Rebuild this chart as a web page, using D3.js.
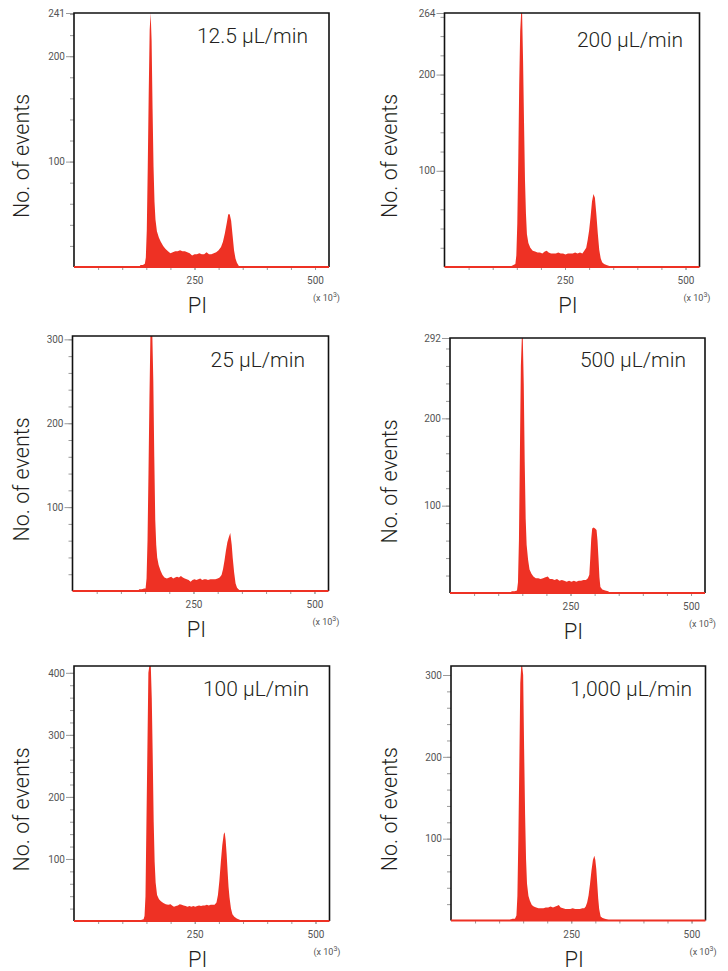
<!DOCTYPE html>
<html>
<head>
<meta charset="utf-8">
<script src="https://cdn.jsdelivr.net/npm/d3@7"></script>
<style>
  body { margin: 0; background: #fff; }
  svg { display: block; font-family: Roboto, "Liberation Sans", Arial, sans-serif; }
</style>
</head>
<body>
<script>
// Panel titles (sample flow rate)
const flowRates = ["12.5 µL/min", "200 µL/min", "25 µL/min", "500 µL/min", "100 µL/min", "1,000 µL/min"];

// Top of each y axis and the labelled y ticks
const yMaxValues = [241, 264, 304, 292, 411, 311];
const yLabelTicks = [
  [100, 200, 241],
  [100, 200, 264],
  [100, 200, 300],
  [100, 200, 292],
  [100, 200, 300, 400],
  [100, 200, 300]
];

// PI axis (x 10^3)
const xMax = 529;
const xMinorTicks = [50, 100, 150, 200, 250, 300, 350, 400, 450, 500];
const xLabelTicks = [250, 500];

// Histograms: [PI (x 10^3), no. of events]
const hist12_5 = [[0,0],[135,0],[138,2],[143,2],[147,3],[149,9],[151,35],[153,95],[155,165],[157,225],[159,241],[161,215],[163,150],[165,95],[167,62],[169,45],[172,34],[176,28],[180,24],[185,20],[190,17],[195,15],[200,13],[205,14],[210,15],[215,15],[220,16],[225,15],[230,15],[235,14],[240,13],[245,11],[250,12],[255,12],[260,13],[265,12],[270,12],[275,14],[280,12],[285,12],[290,13],[295,14],[300,16],[305,19],[309,24],[313,32],[317,42],[320,50],[323,50],[326,44],[329,30],[332,16],[335,8],[338,4],[342,1],[346,0],[529,0]];

const hist200 = [[0,0],[136,0],[139,1],[143,2],[147,3],[149,12],[151,45],[153,110],[155,190],[157,245],[159,264],[161,264],[163,215],[165,150],[167,90],[169,55],[171,34],[174,25],[178,20],[183,17],[188,16],[193,15],[198,15],[203,14],[208,16],[212,17],[216,15],[221,14],[226,14],[231,14],[236,15],[241,14],[246,14],[251,13],[256,14],[261,14],[266,14],[271,15],[276,14],[281,15],[286,14],[290,17],[294,20],[297,28],[300,38],[303,52],[306,68],[309,76],[312,72],[315,55],[318,35],[321,18],[324,9],[327,5],[331,3],[336,2],[342,1],[348,0],[529,0]];

const hist25 = [[0,0],[135,0],[138,2],[143,2],[148,3],[151,3],[153,15],[155,60],[157,140],[159,230],[161,304],[163,304],[165,304],[167,250],[169,160],[171,85],[173,55],[175,40],[178,31],[182,24],[186,19],[190,16],[195,15],[200,16],[204,17],[208,15],[212,16],[216,17],[220,16],[224,18],[228,16],[232,15],[236,14],[240,13],[244,11],[248,13],[252,14],[256,13],[260,14],[264,15],[268,13],[272,14],[276,14],[280,13],[285,14],[290,14],[295,14],[300,15],[304,16],[308,19],[311,26],[314,36],[317,48],[320,58],[323,64],[326,69],[329,55],[331,40],[334,22],[337,9],[340,4],[343,2],[347,0],[529,0]];

const hist500 = [[0,0],[125,0],[128,2],[134,2],[139,3],[141,12],[143,60],[145,160],[147,260],[149,292],[151,292],[153,240],[155,150],[157,85],[159,55],[162,38],[165,27],[169,22],[173,19],[178,17],[183,17],[188,16],[193,17],[198,18],[203,19],[207,16],[212,16],[217,15],[222,16],[227,14],[232,15],[237,14],[242,13],[247,14],[252,13],[257,14],[262,13],[267,14],[272,14],[277,15],[282,15],[286,17],[289,21],[291,40],[293,62],[295,74],[298,75],[301,74],[304,72],[306,60],[308,40],[310,18],[312,7],[316,4],[322,3],[328,2],[333,0],[529,0]];

const hist100 = [[0,0],[137,0],[140,2],[144,3],[146,8],[148,40],[150,160],[152,280],[154,400],[156,411],[159,411],[161,360],[163,265],[165,160],[167,95],[169,62],[172,42],[176,35],[180,32],[185,29],[190,27],[195,26],[200,27],[203,25],[207,23],[211,24],[215,25],[219,27],[223,26],[227,25],[231,24],[235,23],[239,24],[243,23],[247,24],[251,23],[255,24],[259,25],[263,24],[267,25],[271,25],[275,26],[279,25],[283,26],[287,26],[291,26],[295,30],[298,42],[301,65],[304,95],[307,122],[310,140],[312,143],[314,130],[316,108],[318,80],[320,55],[322,38],[325,20],[328,11],[332,7],[337,4],[343,2],[349,0],[529,0]];

const hist1000 = [[0,0],[120,0],[123,1],[128,2],[133,2],[136,6],[138,30],[140,100],[142,190],[144,290],[146,311],[148,311],[150,300],[152,210],[154,130],[156,75],[158,45],[161,30],[164,24],[168,19],[172,17],[177,16],[182,15],[187,15],[192,15],[197,16],[202,16],[207,17],[212,16],[217,17],[221,18],[224,19],[228,16],[233,15],[238,14],[243,14],[248,14],[253,15],[258,14],[263,14],[268,14],[273,15],[277,15],[280,17],[283,22],[286,31],[289,45],[292,61],[295,74],[298,79],[300,74],[302,63],[304,45],[306,27],[308,14],[311,5],[315,3],[320,2],[326,1],[330,0],[529,0]];

const histograms = [hist12_5, hist200, hist25, hist500, hist100, hist1000];

// Plot frames on the page
const frames = [
  { left: 74,    top: 13,  right: 329,   bottom: 267,   labelX: 21,  titleX: 308, titleY: 43 },
  { left: 444.5, top: 13,  right: 699.5, bottom: 267,   labelX: 389, titleX: 683, titleY: 47 },
  { left: 72.5,  top: 336, right: 328.5, bottom: 591,   labelX: 21,  titleX: 305, titleY: 367 },
  { left: 450,   top: 338, right: 705,   bottom: 593,   labelX: 389, titleX: 686, titleY: 367 },
  { left: 74,    top: 666, right: 329.5, bottom: 921,   labelX: 21,  titleX: 309, titleY: 696 },
  { left: 451,   top: 666, right: 705.5, bottom: 920.5, labelX: 389, titleX: 692, titleY: 696 }
];

const red = "#ee3124";
const textColor = "#231f20";

const svg = d3.select("body")
  .append("svg")
  .attr("width", 728)
  .attr("height", 971);

for (let i = 0; i < histograms.length; i++) {
  drawPanel(i);
}

function styleAxis(g) {
  g.select(".domain").remove();
  g.selectAll(".tick line").attr("stroke", "#9a9a9a");
  g.selectAll(".tick text")
    .attr("fill", "#555")
    .style("font-size", "10px")
    .style("font-family", "Roboto, 'Liberation Sans', sans-serif");
}

function drawPanel(i) {
  const f = frames[i];
  const yMax = yMaxValues[i];

  const x = d3.scaleLinear()
    .domain([0, xMax])
    .range([f.left, f.right]);

  const y = d3.scaleLinear()
    .domain([0, yMax])
    .range([f.bottom, f.top]);

  const g = svg.append("g");

  // histogram
  const area = d3.area()
    .x(d => x(d[0]))
    .y0(y(0))
    .y1(d => y(d[1]));

  g.append("path")
    .datum(histograms[i])
    .attr("fill", red)
    .attr("d", area);

  // y axis: minor ticks every 20, then labelled ticks
  g.append("g")
    .attr("transform", "translate(" + f.left + ",0)")
    .call(d3.axisLeft(y).tickValues(d3.range(20, yMax + 1, 20)).tickSize(4).tickFormat(""))
    .call(styleAxis);

  g.append("g")
    .attr("transform", "translate(" + f.left + ",0)")
    .call(d3.axisLeft(y).tickValues(yLabelTicks[i]).tickSize(8).tickPadding(1))
    .call(styleAxis);

  // x axis
  g.append("g")
    .attr("transform", "translate(0," + f.bottom + ")")
    .call(d3.axisBottom(x).tickValues(xMinorTicks).tickSize(3).tickFormat(""))
    .call(styleAxis);

  g.append("g")
    .attr("transform", "translate(0," + f.bottom + ")")
    .call(d3.axisBottom(x).tickValues(xLabelTicks).tickSize(3).tickPadding(7))
    .call(styleAxis);

  // frame
  g.append("path")
    .attr("d", "M" + f.left + "," + f.bottom + "V" + f.top + "H" + f.right + "V" + f.bottom)
    .attr("fill", "none")
    .attr("stroke", "#111")
    .attr("stroke-width", 1.6);

  // red baseline along the bottom
  g.append("line")
    .attr("x1", x(0))
    .attr("x2", x(xMax))
    .attr("y1", y(0))
    .attr("y2", y(0))
    .attr("stroke", red)
    .attr("stroke-width", 2.2);

  // title
  g.append("text")
    .attr("x", f.titleX)
    .attr("y", f.titleY)
    .attr("text-anchor", "end")
    .attr("fill", textColor)
    .style("font-size", "21px")
    .style("font-weight", 300)
    .text(flowRates[i]);

  // y axis title
  g.append("text")
    .attr("transform", "translate(" + (f.labelX + 8) + "," + ((f.top + f.bottom) / 2 + 16) + ") rotate(-90)")
    .attr("text-anchor", "middle")
    .attr("fill", textColor)
    .style("font-size", "21.5px")
    .style("font-weight", 300)
    .text("No. of events");

  // x axis title
  g.append("text")
    .attr("x", x(250) + 3)
    .attr("y", f.bottom + 46)
    .attr("text-anchor", "middle")
    .attr("fill", textColor)
    .style("font-size", "22px")
    .style("font-weight", 300)
    .text("PI");

  // scale note
  const note = g.append("text")
    .attr("x", x(500) - 2)
    .attr("y", f.bottom + 34)
    .attr("fill", "#555")
    .style("font-size", "9px");
  note.append("tspan").text("(x 10");
  note.append("tspan").attr("dy", -4).style("font-size", "7px").text("3");
  note.append("tspan").attr("dy", 4).text(")");
}
</script>
</body>
</html>
